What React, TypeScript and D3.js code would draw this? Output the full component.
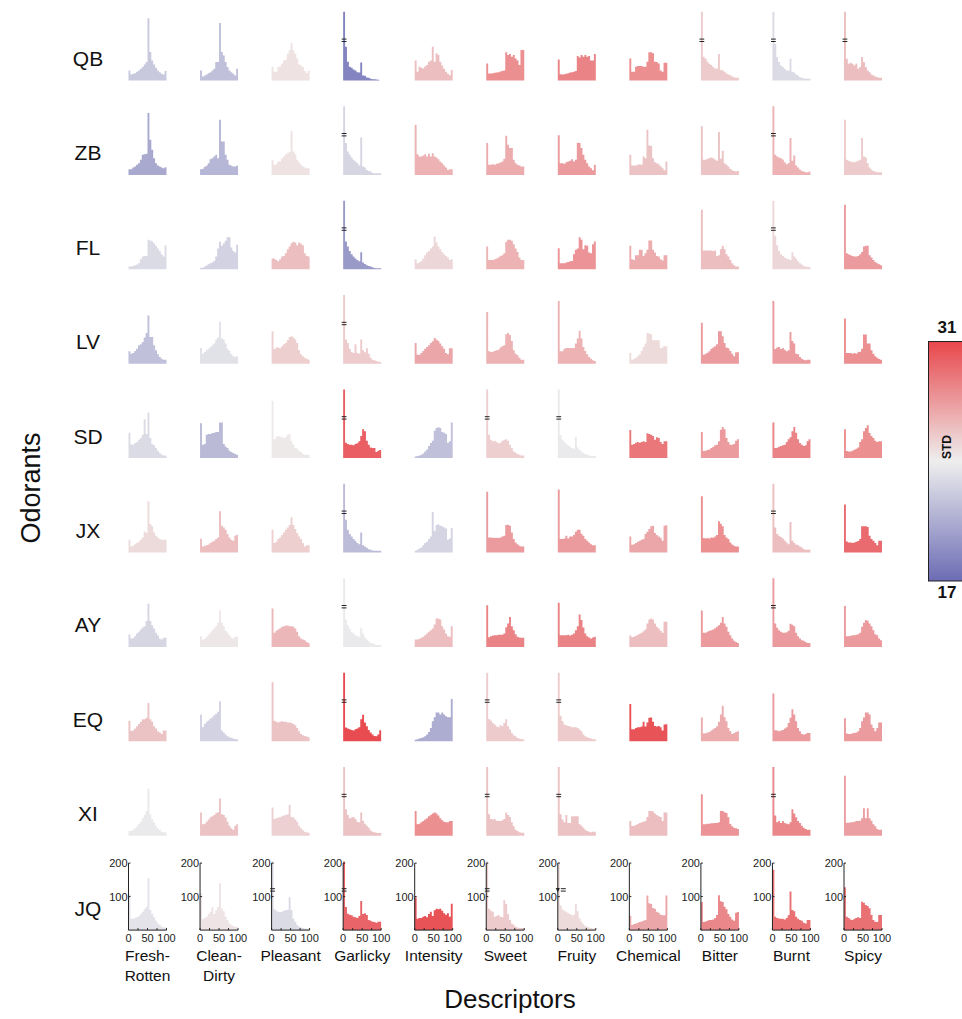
import React from "react";
import * as d3 from "d3";

// Rating histograms (counts per 5-point bin, 0–100) for each odorant × descriptor.
const descriptors = ["Fresh-\nRotten", "Clean-\nDirty", "Pleasant", "Garlicky", "Intensity", "Sweet", "Fruity", "Chemical", "Bitter", "Burnt", "Spicy"];
const odorants = ["QB", "ZB", "FL", "LV", "SD", "JX", "AY", "EQ", "XI", "JQ"];
const binEdges = d3.range(0, 101, 5);
const yTicks = [100, 200];
const xTickLabels = [0, 50, 100];

const countsQB = [
  [30, 18, 20, 22, 26, 30, 35, 40, 48, 55, 186, 85, 60, 48, 38, 30, 25, 20, 18, 28],
  [30, 12, 15, 18, 22, 25, 30, 35, 55, 55, 172, 85, 75, 55, 40, 30, 25, 20, 15, 35],
  [41, 26, 26, 40, 42, 50, 60, 62, 80, 90, 113, 90, 80, 66, 48, 45, 40, 28, 22, 30],
  [320, 101, 56, 41, 38, 33, 30, 25, 24, 54, 15, 14, 9, 8, 5, 4, 4, 3, 2, 0],
  [60, 26, 41, 38, 36, 42, 46, 56, 60, 101, 56, 81, 76, 56, 45, 35, 26, 20, 16, 31],
  [51, 21, 21, 22, 23, 24, 25, 27, 28, 30, 84, 76, 79, 71, 76, 66, 60, 46, 91, 91],
  [63, 19, 18, 19, 20, 22, 24, 25, 26, 28, 73, 69, 76, 71, 76, 71, 73, 60, 60, 79],
  [66, 26, 26, 41, 43, 43, 43, 41, 41, 56, 84, 84, 81, 56, 55, 51, 30, 26, 53, 53],
  [260, 71, 65, 56, 50, 46, 40, 36, 36, 79, 31, 30, 26, 21, 18, 16, 12, 10, 8, 8],
  [280, 110, 70, 55, 45, 40, 35, 30, 30, 66, 26, 24, 18, 15, 10, 8, 6, 6, 5, 5],
  [300, 65, 50, 53, 50, 45, 50, 35, 40, 70, 55, 40, 30, 25, 18, 15, 12, 10, 8, 8],
];
const countsZB = [
  [17, 17, 22, 25, 30, 35, 45, 60, 62, 63, 185, 105, 75, 50, 35, 28, 25, 22, 20, 23],
  [17, 18, 24, 27, 35, 47, 50, 55, 60, 50, 165, 100, 100, 60, 45, 30, 27, 25, 25, 27],
  [45, 30, 32, 40, 40, 50, 55, 62, 65, 68, 132, 70, 62, 45, 38, 30, 25, 22, 20, 20],
  [300, 95, 70, 60, 52, 45, 40, 35, 28, 112, 25, 22, 15, 12, 10, 6, 5, 5, 5, 5],
  [150, 62, 55, 55, 58, 62, 55, 63, 55, 65, 55, 52, 47, 40, 35, 28, 22, 15, 17, 17],
  [95, 30, 30, 32, 30, 33, 35, 37, 40, 48, 117, 90, 80, 80, 45, 35, 30, 28, 25, 25],
  [118, 35, 35, 33, 38, 40, 42, 47, 40, 45, 96, 95, 80, 60, 45, 35, 25, 20, 14, 30],
  [60, 28, 28, 28, 30, 32, 30, 55, 50, 135, 88, 86, 50, 38, 35, 32, 26, 20, 14, 40],
  [145, 45, 45, 48, 50, 52, 50, 46, 42, 128, 48, 72, 35, 30, 25, 18, 14, 12, 10, 12],
  [300, 60, 55, 52, 50, 46, 38, 32, 35, 110, 42, 58, 28, 22, 16, 12, 10, 8, 8, 10],
  [165, 45, 42, 40, 38, 38, 40, 42, 45, 110, 55, 52, 35, 22, 16, 12, 10, 8, 8, 8],
];
const countsFL = [
  [8, 8, 10, 12, 14, 18, 30, 38, 40, 40, 88, 86, 84, 78, 70, 62, 55, 45, 38, 71],
  [5, 5, 8, 11, 15, 18, 20, 25, 38, 62, 82, 70, 78, 85, 96, 96, 65, 55, 50, 73],
  [32, 32, 28, 24, 30, 38, 40, 48, 60, 68, 78, 82, 80, 72, 80, 76, 72, 48, 40, 38],
  [330, 83, 68, 55, 45, 38, 32, 28, 24, 51, 20, 16, 12, 10, 8, 6, 4, 3, 3, 3],
  [30, 18, 20, 25, 32, 42, 50, 55, 62, 68, 98, 80, 68, 60, 52, 45, 40, 35, 28, 30],
  [68, 28, 28, 28, 30, 32, 35, 40, 42, 48, 82, 88, 88, 85, 75, 62, 52, 35, 28, 28],
  [63, 18, 18, 18, 20, 22, 24, 25, 45, 58, 62, 96, 88, 60, 72, 70, 50, 48, 75, 83],
  [70, 30, 28, 42, 42, 58, 58, 40, 48, 58, 86, 86, 58, 50, 40, 38, 30, 26, 42, 42],
  [178, 56, 56, 56, 56, 56, 55, 56, 40, 42, 60, 70, 60, 45, 38, 28, 18, 12, 8, 8],
  [320, 100, 72, 55, 45, 40, 35, 32, 30, 28, 51, 38, 32, 24, 18, 14, 10, 8, 7, 7],
  [193, 48, 45, 42, 40, 38, 38, 40, 45, 52, 68, 70, 70, 42, 35, 28, 22, 18, 15, 12],
];
const countsLV = [
  [37, 30, 32, 38, 45, 55, 58, 65, 78, 92, 144, 80, 80, 55, 40, 28, 20, 15, 12, 12],
  [47, 30, 35, 40, 45, 50, 55, 60, 72, 78, 125, 75, 72, 60, 45, 38, 28, 22, 20, 22],
  [97, 44, 48, 48, 46, 52, 58, 62, 70, 80, 82, 78, 72, 62, 40, 28, 22, 18, 15, 12],
  [320, 72, 62, 45, 35, 32, 58, 32, 30, 72, 40, 34, 46, 30, 18, 12, 10, 8, 6, 6],
  [62, 27, 27, 32, 38, 45, 50, 55, 62, 67, 77, 72, 68, 60, 52, 45, 32, 28, 46, 46],
  [154, 37, 35, 36, 38, 40, 42, 48, 52, 55, 88, 92, 86, 68, 40, 30, 25, 18, 12, 12],
  [187, 37, 37, 45, 47, 47, 47, 47, 47, 60, 75, 98, 75, 50, 38, 28, 20, 15, 10, 8],
  [32, 12, 14, 18, 22, 28, 38, 50, 60, 92, 90, 88, 70, 70, 70, 70, 46, 48, 52, 52],
  [122, 27, 30, 33, 37, 45, 48, 52, 58, 97, 97, 82, 62, 48, 46, 38, 30, 22, 34, 34],
  [187, 44, 48, 50, 44, 47, 42, 37, 40, 95, 68, 60, 30, 28, 20, 15, 12, 10, 12, 12],
  [135, 32, 32, 32, 30, 32, 30, 34, 36, 45, 87, 87, 60, 60, 40, 30, 22, 18, 14, 12],
];
const countsSD = [
  [76, 41, 40, 45, 48, 55, 60, 70, 116, 72, 136, 60, 42, 38, 30, 22, 15, 10, 8, 8],
  [104, 40, 42, 70, 72, 72, 75, 76, 78, 78, 106, 106, 42, 35, 30, 22, 18, 15, 12, 10],
  [171, 56, 62, 66, 64, 62, 60, 63, 71, 71, 50, 40, 30, 28, 22, 18, 12, 10, 10, 10],
  [340, 46, 42, 40, 40, 38, 42, 44, 50, 66, 86, 80, 52, 40, 32, 30, 30, 18, 22, 24],
  [5, 6, 8, 10, 14, 20, 26, 36, 45, 52, 82, 90, 92, 90, 78, 76, 72, 46, 50, 106],
  [330, 70, 55, 50, 52, 48, 44, 46, 52, 55, 56, 52, 40, 30, 20, 16, 12, 10, 8, 8],
  [320, 68, 55, 48, 42, 38, 34, 30, 28, 64, 32, 24, 20, 15, 12, 10, 8, 6, 6, 6],
  [84, 40, 42, 46, 48, 46, 48, 50, 48, 74, 72, 70, 66, 55, 62, 60, 48, 42, 50, 50],
  [78, 21, 22, 24, 26, 30, 34, 38, 40, 50, 85, 93, 86, 60, 48, 40, 40, 42, 52, 56],
  [106, 30, 31, 34, 36, 38, 40, 48, 56, 62, 80, 93, 76, 56, 45, 40, 36, 38, 50, 56],
  [86, 21, 20, 20, 22, 25, 28, 32, 48, 56, 80, 90, 98, 75, 66, 60, 52, 48, 50, 50],
];
const countsJX = [
  [38, 18, 20, 25, 28, 32, 38, 45, 63, 58, 153, 85, 78, 60, 50, 45, 40, 38, 38, 38],
  [41, 18, 20, 22, 24, 28, 32, 35, 40, 45, 123, 80, 75, 68, 55, 45, 38, 35, 50, 53],
  [68, 28, 32, 40, 45, 52, 60, 68, 75, 82, 105, 82, 70, 58, 48, 40, 28, 18, 22, 22],
  [320, 98, 68, 55, 48, 40, 35, 28, 25, 60, 22, 18, 14, 10, 8, 6, 5, 5, 5, 5],
  [5, 8, 12, 15, 22, 28, 32, 40, 48, 121, 64, 82, 84, 80, 78, 75, 72, 38, 42, 73],
  [181, 45, 45, 44, 43, 44, 43, 45, 48, 50, 82, 83, 80, 60, 40, 30, 25, 20, 18, 18],
  [188, 40, 40, 42, 50, 42, 48, 48, 52, 62, 68, 68, 56, 50, 40, 35, 30, 25, 22, 22],
  [48, 23, 25, 28, 32, 35, 38, 40, 55, 62, 70, 78, 80, 58, 52, 48, 44, 35, 80, 81],
  [168, 43, 42, 43, 42, 45, 44, 48, 52, 93, 86, 78, 52, 45, 40, 30, 24, 20, 18, 18],
  [310, 75, 55, 50, 46, 42, 36, 30, 25, 91, 35, 28, 24, 22, 18, 15, 10, 8, 8, 8],
  [143, 33, 30, 30, 28, 30, 32, 34, 40, 78, 78, 78, 76, 50, 40, 35, 28, 22, 35, 35],
];
const countsAY = [
  [37, 25, 26, 32, 40, 45, 52, 58, 62, 77, 129, 77, 65, 55, 42, 35, 25, 22, 27, 27],
  [32, 22, 24, 30, 36, 42, 50, 55, 62, 72, 109, 72, 62, 48, 42, 35, 28, 25, 30, 30],
  [115, 42, 48, 52, 56, 60, 62, 64, 64, 62, 62, 60, 55, 45, 32, 25, 22, 20, 15, 12],
  [320, 82, 65, 55, 45, 40, 35, 32, 30, 57, 40, 28, 22, 16, 12, 10, 8, 6, 6, 6],
  [22, 22, 24, 27, 30, 35, 40, 45, 50, 55, 67, 85, 85, 82, 62, 52, 40, 32, 30, 62],
  [124, 29, 32, 34, 35, 35, 36, 36, 36, 40, 59, 70, 89, 62, 50, 38, 30, 28, 27, 27],
  [132, 35, 35, 35, 35, 36, 34, 36, 40, 50, 62, 97, 80, 58, 40, 32, 28, 25, 28, 30],
  [34, 29, 30, 33, 36, 39, 42, 47, 52, 70, 82, 85, 82, 70, 60, 55, 48, 42, 75, 75],
  [109, 42, 42, 45, 48, 50, 52, 56, 60, 65, 72, 89, 70, 60, 45, 35, 25, 18, 15, 12],
  [310, 70, 57, 50, 45, 42, 42, 44, 48, 69, 66, 62, 42, 32, 25, 20, 18, 15, 12, 12],
  [122, 32, 32, 33, 35, 35, 36, 38, 42, 60, 72, 80, 78, 70, 62, 50, 38, 35, 25, 20],
];
const countsEQ = [
  [61, 31, 32, 38, 45, 52, 58, 66, 66, 70, 114, 66, 58, 45, 38, 30, 26, 22, 32, 32],
  [79, 42, 52, 58, 62, 68, 72, 78, 82, 88, 119, 32, 26, 20, 15, 12, 10, 8, 6, 6],
  [176, 61, 58, 56, 58, 60, 58, 58, 56, 56, 55, 52, 48, 40, 30, 22, 18, 16, 14, 12],
  [340, 41, 38, 36, 34, 32, 36, 38, 42, 66, 79, 56, 45, 34, 26, 20, 16, 15, 20, 33],
  [5, 6, 8, 10, 12, 15, 20, 28, 40, 60, 72, 86, 86, 80, 86, 80, 75, 72, 72, 126],
  [340, 66, 62, 55, 50, 44, 42, 48, 45, 55, 66, 45, 35, 25, 18, 15, 10, 8, 6, 6],
  [330, 76, 60, 50, 48, 46, 44, 42, 42, 42, 40, 35, 30, 20, 15, 12, 10, 8, 6, 6],
  [111, 36, 36, 40, 42, 42, 44, 58, 44, 56, 70, 71, 58, 46, 44, 46, 42, 32, 50, 51],
  [71, 23, 24, 26, 28, 32, 36, 40, 45, 58, 80, 106, 72, 60, 40, 30, 22, 25, 28, 30],
  [143, 33, 32, 30, 32, 34, 38, 42, 55, 70, 96, 80, 60, 40, 30, 22, 20, 22, 25, 25],
  [69, 23, 22, 22, 24, 25, 26, 30, 40, 60, 71, 86, 86, 80, 50, 40, 30, 40, 56, 56],
];
const countsXI = [
  [14, 14, 18, 22, 28, 35, 42, 52, 62, 74, 141, 64, 50, 40, 30, 22, 18, 12, 10, 10],
  [69, 34, 36, 42, 48, 55, 58, 62, 68, 70, 111, 64, 62, 54, 42, 30, 22, 18, 30, 34],
  [84, 50, 52, 54, 55, 58, 60, 62, 64, 92, 56, 55, 48, 42, 30, 22, 16, 12, 10, 9],
  [320, 79, 62, 52, 54, 56, 50, 42, 40, 69, 45, 36, 30, 24, 16, 12, 10, 9, 8, 8],
  [74, 34, 36, 40, 44, 48, 52, 58, 62, 66, 69, 66, 60, 52, 46, 42, 40, 40, 44, 44],
  [320, 64, 50, 48, 50, 45, 44, 44, 46, 50, 69, 62, 56, 40, 28, 18, 14, 10, 9, 9],
  [330, 64, 48, 40, 62, 38, 38, 58, 58, 58, 58, 34, 30, 24, 18, 14, 12, 10, 12, 12],
  [44, 29, 30, 32, 35, 38, 40, 42, 44, 56, 74, 74, 72, 66, 62, 58, 56, 44, 69, 69],
  [124, 34, 34, 36, 36, 37, 37, 38, 38, 40, 74, 74, 70, 68, 55, 35, 28, 24, 22, 20],
  [320, 60, 40, 44, 38, 44, 38, 36, 34, 40, 79, 66, 55, 44, 38, 30, 24, 20, 18, 18],
  [179, 39, 39, 40, 40, 42, 44, 44, 45, 52, 82, 52, 82, 52, 45, 34, 28, 20, 18, 18],
];
const countsJQ = [
  [108, 34, 34, 36, 38, 42, 48, 55, 62, 68, 155, 60, 48, 38, 28, 20, 15, 10, 8, 8],
  [111, 34, 36, 40, 48, 55, 69, 48, 60, 69, 140, 64, 56, 40, 30, 20, 15, 12, 10, 9],
  [320, 62, 58, 55, 54, 55, 58, 60, 60, 98, 60, 35, 25, 15, 10, 8, 6, 5, 4, 4],
  [330, 69, 49, 46, 44, 40, 38, 36, 42, 87, 48, 50, 45, 30, 28, 25, 24, 22, 25, 25],
  [97, 34, 36, 36, 40, 42, 38, 48, 55, 42, 59, 64, 62, 64, 58, 50, 46, 50, 40, 79],
  [320, 64, 58, 55, 40, 42, 46, 40, 38, 89, 78, 48, 30, 20, 15, 10, 8, 6, 6, 6],
  [330, 74, 62, 58, 55, 50, 48, 44, 46, 79, 56, 35, 25, 18, 12, 10, 8, 6, 5, 5],
  [43, 15, 18, 20, 22, 24, 26, 28, 30, 103, 80, 78, 66, 64, 55, 52, 46, 44, 44, 103],
  [84, 24, 26, 28, 30, 30, 32, 36, 45, 104, 86, 84, 70, 62, 48, 40, 32, 28, 52, 54],
  [180, 40, 36, 35, 34, 34, 32, 36, 44, 115, 60, 56, 40, 34, 30, 28, 22, 20, 30, 30],
  [128, 40, 36, 32, 30, 34, 36, 38, 36, 85, 82, 75, 72, 65, 45, 30, 25, 24, 45, 45],
];

// Standard deviation of ratings, one per descriptor, for each odorant
const stdQB = [22, 21.5, 24.5, 18.3, 26, 28, 28.5, 28, 25.5, 23, 26];
const stdZB = [20.3, 21, 24.5, 22.7, 26.5, 26.8, 27.5, 25.8, 25.8, 26.5, 25.5];
const stdFL = [23, 22.5, 26, 19.5, 25, 26.5, 27.8, 26.8, 26, 25, 27.5];
const stdLV = [21.5, 23.3, 25.3, 25.5, 27, 26.5, 26.5, 24.8, 27.5, 27.5, 28];
const stdSD = [23, 21.2, 24.2, 30, 21.5, 25.3, 23.8, 29, 27.5, 28.5, 28];
const stdJX = [24.8, 26, 25.3, 21.3, 22.6, 27.5, 27.5, 27, 28, 26, 29.5];
const stdAY = [22.7, 24.3, 26.3, 23.8, 26, 28.5, 28.5, 26, 27.5, 27.5, 27.5];
const stdEQ = [25.8, 22.5, 25.8, 30.8, 20.5, 25.5, 25.5, 30.5, 26.8, 27.5, 27.5];
const stdXI = [23.8, 25.8, 25.2, 25.8, 28, 25.8, 25.8, 26, 27.8, 28.3, 27.3];
const stdJQ = [23.4, 24.4, 23, 29.8, 30.5, 25.5, 24.8, 27, 28.3, 29.3, 29.3];

const stdRange = [17, 31];

const allCounts = [countsQB, countsZB, countsFL, countsLV, countsSD, countsJX, countsAY, countsEQ, countsXI, countsJQ];
const allStd = [stdQB, stdZB, stdFL, stdLV, stdSD, stdJX, stdAY, stdEQ, stdXI, stdJQ];

// Layout
const W = 962;
const H = 1019;
const colX0 = 128.5;
const colStep = 71.55;
const histW = 38;
const rowBase0 = 80.5;
const rowStep = 94.4;
const histH = 67;
const yMax = 200;
const capValue = 205; // bars above this are cut, with a break mark
const breakLevel = 120;
const FONT = "'Liberation Sans', Arial, Helvetica, sans-serif";

const color = d3
  .scaleLinear<string>()
  .domain([stdRange[0], (stdRange[0] + stdRange[1]) / 2, stdRange[1]])
  .range(["#6c6cb5", "#eeeeee", "#e8474c"])
  .interpolate(d3.interpolateRgb)
  .clamp(true);

function Histogram({ counts, std, row, col, showAxes, arrow }: { counts: number[]; std: number; row: number; col: number; showAxes: boolean; arrow: boolean }) {
  const x0 = colX0 + col * colStep;
  const base = rowBase0 + row * rowStep;
  const x = d3.scaleLinear().domain([0, 100]).range([x0, x0 + histW]);
  const y = d3.scaleLinear().domain([0, yMax]).range([base, base - histH]);
  const pts = counts.map((v, i) => ({ x: binEdges[i], v }));
  pts.push({ x: 100, v: counts[counts.length - 1] });
  const area = d3
    .area<{ x: number; v: number }>()
    .x((d) => x(d.x))
    .y0(base)
    .y1((d) => y(Math.min(d.v, capValue)))
    .curve(d3.curveStepAfter);
  const truncated = counts[0] > capValue;
  const bx = (x(0) + x(5)) / 2;
  const by = y(breakLevel);
  return (
    <g>
      <path d={area(pts) || ""} fill={color(std)} />
      {truncated && !arrow && (
        <g stroke="#222" strokeWidth={1}>
          <line x1={bx - 2.4} x2={bx + 2.4} y1={by - 1.2} y2={by - 1.2} />
          <line x1={bx - 2.4} x2={bx + 2.4} y1={by + 1.2} y2={by + 1.2} />
        </g>
      )}
      {truncated && arrow && (
        <g>
          <path d={`M${x(0) - 2},${by - 2} L${x(0) + 2},${by - 2} L${x(0)},${by + 2.5} Z`} fill="#222" />
          <g stroke="#222" strokeWidth={1}>
            <line x1={x(0) + 3} x2={x(0) + 8} y1={by - 1.2} y2={by - 1.2} />
            <line x1={x(0) + 3} x2={x(0) + 8} y1={by + 1.2} y2={by + 1.2} />
          </g>
        </g>
      )}
      {showAxes && (
        <g fontFamily={FONT} fontSize={11} fill="#222">
          <line x1={x(0)} x2={x(0)} y1={base} y2={y(yMax)} stroke="#222" strokeWidth={1} />
          <line x1={x(0)} x2={x(100)} y1={base} y2={base} stroke="#222" strokeWidth={1} />
          {yTicks.map((t) => (
            <g key={t}>
              <line x1={x(0)} x2={x(0) + 2} y1={y(t)} y2={y(t)} stroke="#222" strokeWidth={1} />
              <text x={x(0) - 1} y={y(t) + 4} textAnchor="end">
                {t}
              </text>
            </g>
          ))}
          {[0, 25, 50, 75, 100].map((t) => (
            <line key={t} x1={x(t)} x2={x(t)} y1={base} y2={base - 2} stroke="#222" strokeWidth={1} />
          ))}
          {xTickLabels.map((t) => (
            <text key={t} x={x(t)} y={base + 12} textAnchor="middle">
              {t}
            </text>
          ))}
        </g>
      )}
    </g>
  );
}

export default function App() {
  const lastRow = odorants.length - 1;
  const barX = 928.5;
  const barTop = 341.5;
  const barBottom = 581;
  return (
    <svg width={W} height={H} style={{ position: "absolute", left: 0, top: 0, background: "#fff" }} fontFamily={FONT}>
      <defs>
        <linearGradient id="stdGrad" x1="0" y1="0" x2="0" y2="1">
          {d3.range(0, 1.0001, 0.1).map((t) => (
            <stop key={t} offset={`${t * 100}%`} stopColor={color(stdRange[1] - t * (stdRange[1] - stdRange[0]))} />
          ))}
        </linearGradient>
      </defs>

      {allCounts.map((rowCounts, r) =>
        rowCounts.map((counts, c) => (
          <Histogram
            key={`${r}-${c}`}
            counts={counts}
            std={allStd[r][c]}
            row={r}
            col={c}
            showAxes={r === lastRow}
            arrow={odorants[r] === "JQ" && descriptors[c] === "Fruity"}
          />
        ))
      )}

      {/* odorant labels */}
      {odorants.map((o, r) => (
        <text key={o} x={88} y={rowBase0 + r * rowStep - 14.5} fontSize={21} textAnchor="middle" fill="#111">
          {o}
        </text>
      ))}

      {/* descriptor labels: first lines share one baseline */}
      {descriptors.map((d, c) => {
        const cx = colX0 + c * colStep + histW / 2;
        const lines = d.split("\n");
        return (
          <text key={d} x={cx} fontSize={15.5} textAnchor="middle" fill="#111">
            {lines.map((ln, i) => (
              <tspan key={ln} x={cx} y={961 + i * 20}>
                {ln}
              </tspan>
            ))}
          </text>
        );
      })}

      {/* axis titles */}
      <text x={510} y={1008} fontSize={26} textAnchor="middle" fill="#111">
        Descriptors
      </text>
      <text transform="translate(40,488) rotate(-90)" fontSize={27} textAnchor="middle" fill="#111">
        Odorants
      </text>

      {/* colour bar */}
      <rect x={barX} y={barTop} width={40} height={barBottom - barTop} fill="url(#stdGrad)" stroke="#222" strokeWidth={1} />
      <text x={947} y={333} fontSize={17} fontWeight="bold" textAnchor="middle" fill="#111">
        {stdRange[1]}
      </text>
      <text x={947} y={598} fontSize={17} fontWeight="bold" textAnchor="middle" fill="#111">
        {stdRange[0]}
      </text>
      <text transform="translate(951,447) rotate(-90)" fontSize={12} fontWeight="bold" textAnchor="middle" fill="#111">
        STD
      </text>
    </svg>
  );
}
